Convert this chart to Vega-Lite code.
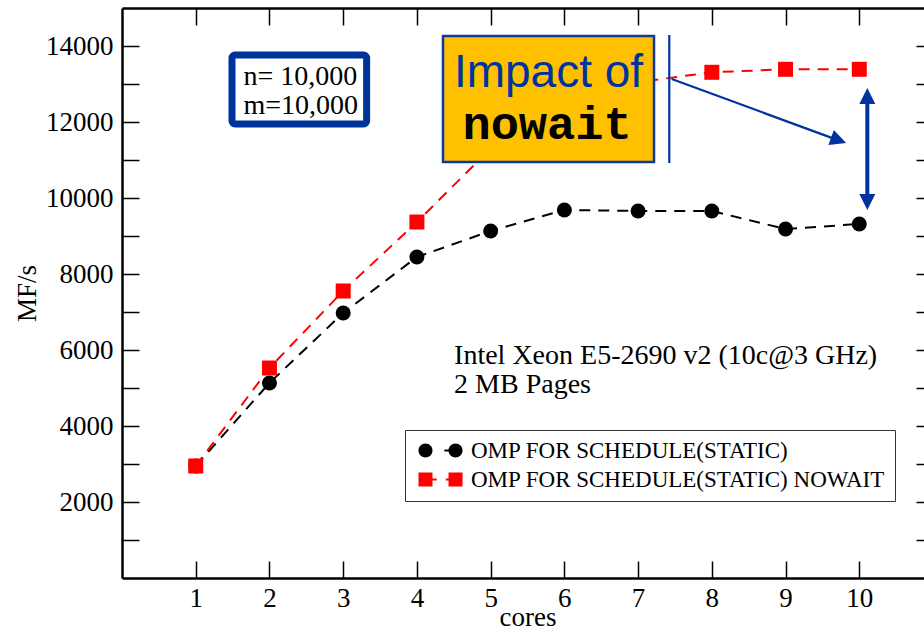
{
  "$schema": "https://vega.github.io/schema/vega-lite/v6.json",
  "width": 811,
  "height": 570,
  "autosize": {"type": "none"},
  "padding": {"left": 122, "top": 8, "right": -9, "bottom": 54},
  "background": "white",
  "config": {
    "view": {"stroke": null},
    "font": "Liberation Serif",
    "axis": {"domainColor": "black", "domainWidth": 2.5, "tickColor": "black", "tickWidth": 1.5, "labelColor": "black", "titleColor": "black", "labelFont": "Liberation Serif", "titleFont": "Liberation Serif", "labelFontSize": 27, "titleFontSize": 27, "titleFontWeight": "normal", "grid": false}
  },
  "datasets": {
    "perf": [
      {"cores": 1, "series": "OMP FOR SCHEDULE(STATIC)", "mfs": 2947},
      {"cores": 2, "series": "OMP FOR SCHEDULE(STATIC)", "mfs": 5132},
      {"cores": 3, "series": "OMP FOR SCHEDULE(STATIC)", "mfs": 6974},
      {"cores": 4, "series": "OMP FOR SCHEDULE(STATIC)", "mfs": 8447},
      {"cores": 5, "series": "OMP FOR SCHEDULE(STATIC)", "mfs": 9132},
      {"cores": 6, "series": "OMP FOR SCHEDULE(STATIC)", "mfs": 9684},
      {"cores": 7, "series": "OMP FOR SCHEDULE(STATIC)", "mfs": 9658},
      {"cores": 8, "series": "OMP FOR SCHEDULE(STATIC)", "mfs": 9658},
      {"cores": 9, "series": "OMP FOR SCHEDULE(STATIC)", "mfs": 9184},
      {"cores": 10, "series": "OMP FOR SCHEDULE(STATIC)", "mfs": 9316},
      {"cores": 1, "series": "OMP FOR SCHEDULE(STATIC) NOWAIT", "mfs": 2947},
      {"cores": 2, "series": "OMP FOR SCHEDULE(STATIC) NOWAIT", "mfs": 5526},
      {"cores": 3, "series": "OMP FOR SCHEDULE(STATIC) NOWAIT", "mfs": 7553},
      {"cores": 4, "series": "OMP FOR SCHEDULE(STATIC) NOWAIT", "mfs": 9368},
      {"cores": 5, "series": "OMP FOR SCHEDULE(STATIC) NOWAIT", "mfs": 11300},
      {"cores": 6, "series": "OMP FOR SCHEDULE(STATIC) NOWAIT", "mfs": 12600},
      {"cores": 7, "series": "OMP FOR SCHEDULE(STATIC) NOWAIT", "mfs": 13050},
      {"cores": 8, "series": "OMP FOR SCHEDULE(STATIC) NOWAIT", "mfs": 13308},
      {"cores": 9, "series": "OMP FOR SCHEDULE(STATIC) NOWAIT", "mfs": 13387},
      {"cores": 10, "series": "OMP FOR SCHEDULE(STATIC) NOWAIT", "mfs": 13387}
    ],
    "boxes": [
      {"name": "nm", "x": 1.492, "x2": 3.318, "y": 13763, "y2": 11947},
      {"name": "impact", "x": 4.354, "x2": 7.216, "y": 14263, "y2": 10947}
    ],
    "serifText": [
      {"t": "n= 10,000", "x": 1.647, "y": 12974},
      {"t": "m=10,000", "x": 1.647, "y": 12218},
      {"t": "Intel Xeon E5-2690 v2 (10c@3 GHz)", "x": 4.504, "y": 5630},
      {"t": "2 MB Pages", "x": 4.504, "y": 4868}
    ]
  },
  "layer": [
    {
      "data": {"name": "perf"},
      "mark": {"type": "line", "strokeWidth": 2, "strokeDash": [11, 8]},
      "encoding": {
        "x": {"field": "cores", "type": "quantitative", "scale": {"domain": [0, 11], "nice": false, "zero": false},
          "axis": {"orient": "bottom", "values": [1,2,3,4,5,6,7,8,9,10], "tickSize": -17, "labelPadding": 24, "title": "cores", "titlePadding": -7}},
        "y": {"field": "mfs", "type": "quantitative", "scale": {"domain": [0, 15000], "nice": false, "zero": false},
          "axis": {"orient": "left", "values": [1000,2000,3000,4000,5000,6000,7000,8000,9000,10000,11000,12000,13000,14000], "tickSize": -17, "labelPadding": 26,
            "labelExpr": "datum.value % 2000 === 0 ? datum.value : ''", "title": "MF/s", "titlePadding": 4,
            "encode": {"ticks": {"update": {"x2": {"signal": "datum.value % 2000 === 0 ? 17 : 10"}}}}}},
        "color": {"field": "series", "type": "nominal",
          "scale": {"domain": ["OMP FOR SCHEDULE(STATIC)", "OMP FOR SCHEDULE(STATIC) NOWAIT"], "range": ["#000000", "#ff0000"]}},
        "order": {"field": "cores"}
      }
    },
    {
      "data": {"name": "perf"},
      "mark": {"type": "point", "filled": true, "opacity": 0},
      "encoding": {
        "x": {"field": "cores", "type": "quantitative",
          "axis": {"orient": "top", "values": [1,2,3,4,5,6,7,8,9,10], "tickSize": -17, "labels": false, "title": null}},
        "y": {"field": "mfs", "type": "quantitative",
          "axis": {"orient": "right", "values": [1000,2000,3000,4000,5000,6000,7000,8000,9000,10000,11000,12000,13000,14000], "tickSize": -17, "labels": false, "title": null,
            "encode": {"ticks": {"update": {"x2": {"signal": "datum.value % 2000 === 0 ? -17 : -10"}}}}}},
        "shape": {"field": "series", "type": "nominal",
          "scale": {"domain": ["OMP FOR SCHEDULE(STATIC)", "OMP FOR SCHEDULE(STATIC) NOWAIT"],
            "range": ["M-1,0A1,1,0,1,1,1,0A1,1,0,1,1,-1,0ZM2.7,-0.16H3.4V0.16H2.7ZM3.29,0A1,1,0,1,1,5.29,0A1,1,0,1,1,3.29,0Z", "M-1,-1H1V1H-1ZM1,-0.16H1.6V0.16H1ZM2.9,-0.16H3.4V0.16H2.9ZM3.29,-1H5.29V1H3.29Z"]}},
        "color": {"field": "series", "type": "nominal",
          "legend": {"orient": "none", "legendX": 283, "legendY": 422, "title": null, "strokeColor": "#333333", "fillColor": "white", "padding": 9,
            "labelFont": "Liberation Serif", "labelFontSize": 23, "labelColor": "black", "labelOffset": 34, "labelLimit": 700, "symbolSize": 196, "rowPadding": 5, "symbolStrokeWidth": 0, "symbolOpacity": 1}
        }
      }
    },
    {
      "data": {"name": "perf"},
      "transform": [{"filter": "datum.series === 'OMP FOR SCHEDULE(STATIC)'"}],
      "mark": {"type": "point", "filled": true, "opacity": 1, "size": 225, "shape": "circle"},
      "encoding": {
        "x": {"field": "cores", "type": "quantitative", "axis": null},
        "y": {"field": "mfs", "type": "quantitative", "axis": null},
        "color": {"field": "series", "type": "nominal"}
      }
    },
    {
      "data": {"name": "perf"},
      "transform": [{"filter": "datum.series === 'OMP FOR SCHEDULE(STATIC) NOWAIT'"}],
      "mark": {"type": "point", "filled": true, "opacity": 1, "size": 225, "shape": "square"},
      "encoding": {
        "x": {"field": "cores", "type": "quantitative", "axis": null},
        "y": {"field": "mfs", "type": "quantitative", "axis": null},
        "color": {"field": "series", "type": "nominal"}
      }
    },
    {
      "data": {"name": "boxes"},
      "transform": [{"filter": "datum.name === 'nm'"}],
      "mark": {"type": "rect", "fill": "white", "stroke": "#003399", "strokeWidth": 7, "cornerRadius": 3},
      "encoding": {
        "x": {"field": "x", "type": "quantitative", "axis": null},
        "x2": {"field": "x2"},
        "y": {"field": "y", "type": "quantitative", "axis": null},
        "y2": {"field": "y2"}
      }
    },
    {
      "data": {"name": "boxes"},
      "transform": [{"filter": "datum.name === 'impact'"}],
      "mark": {"type": "rect", "fill": "#FFC000", "stroke": "#0D3A9A", "strokeWidth": 2.5},
      "encoding": {
        "x": {"field": "x", "type": "quantitative", "axis": null},
        "x2": {"field": "x2"},
        "y": {"field": "y", "type": "quantitative", "axis": null},
        "y2": {"field": "y2"}
      }
    },
    {
      "data": {"name": "serifText"},
      "mark": {"type": "text", "font": "Liberation Serif", "fontSize": 28, "align": "left", "baseline": "alphabetic", "color": "black"},
      "encoding": {
        "x": {"field": "x", "type": "quantitative", "axis": null},
        "y": {"field": "y", "type": "quantitative", "axis": null},
        "text": {"field": "t"}
      }
    },
    {
      "data": {"values": [{"t": "Impact of", "x": 5.785, "y": 12921}]},
      "mark": {"type": "text", "font": "Liberation Sans", "fontSize": 46, "align": "center", "baseline": "alphabetic", "color": "#0033A0"},
      "encoding": {
        "x": {"field": "x", "type": "quantitative", "axis": null},
        "y": {"field": "y", "type": "quantitative", "axis": null},
        "text": {"field": "t"}
      }
    },
    {
      "data": {"values": [{"t": "nowait", "x": 5.765, "y": 11553}]},
      "mark": {"type": "text", "font": "Liberation Mono", "fontWeight": "bold", "fontSize": 47, "align": "center", "baseline": "alphabetic", "color": "black"},
      "encoding": {
        "x": {"field": "x", "type": "quantitative", "axis": null},
        "y": {"field": "y", "type": "quantitative", "axis": null},
        "text": {"field": "t"}
      }
    },
    {
      "data": {"values": [
        {"x": 7.423, "x2": 7.423, "y": 14289, "y2": 10921},
        {"x": 7.456, "x2": 9.70, "y": 13132, "y2": 11530}
      ]},
      "mark": {"type": "rule", "stroke": "#0033A0", "strokeWidth": 2.2},
      "encoding": {
        "x": {"field": "x", "type": "quantitative", "axis": null},
        "x2": {"field": "x2"},
        "y": {"field": "y", "type": "quantitative", "axis": null},
        "y2": {"field": "y2"}
      }
    },
    {
      "data": {"values": [{"x": 10.109, "y": 12684, "y2": 9895}]},
      "mark": {"type": "rule", "stroke": "#0033A0", "strokeWidth": 4},
      "encoding": {
        "x": {"field": "x", "type": "quantitative", "axis": null},
        "y": {"field": "y", "type": "quantitative", "axis": null},
        "y2": {"field": "y2"}
      }
    },
    {
      "data": {"values": [
        {"x": 10.109, "y": 12684, "ang": 0},
        {"x": 10.109, "y": 9895, "ang": 180},
        {"x": 9.720, "y": 11518, "ang": 110}
      ]},
      "mark": {"type": "point", "filled": true, "opacity": 1, "color": "#0033A0", "size": 256, "shape": "M0,-1L-1,1L1,1Z"},
      "encoding": {
        "x": {"field": "x", "type": "quantitative", "axis": null},
        "y": {"field": "y", "type": "quantitative", "axis": null},
        "angle": {"field": "ang", "type": "quantitative", "scale": null}
      }
    }
  ],
  "resolve": {"axis": {"x": "independent", "y": "independent"}}
}
